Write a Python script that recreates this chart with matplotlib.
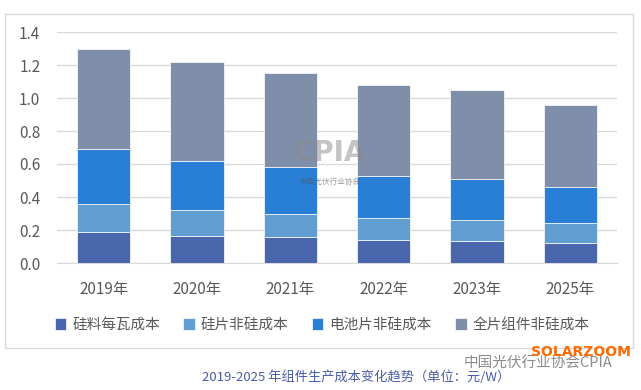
import matplotlib
matplotlib.use('Agg')
import matplotlib.pyplot as plt
import numpy as np

plt.rcParams['font.family'] = ['Noto Sans CJK SC', 'DejaVu Sans']

# data (元/W)
years = ['2019年', '2020年', '2021年', '2022年', '2023年', '2025年']
silicon = [0.19, 0.165, 0.155, 0.14, 0.135, 0.12]      # 硅料每瓦成本
wafer = [0.17, 0.155, 0.145, 0.13, 0.125, 0.12]        # 硅片非硅成本
cell = [0.33, 0.30, 0.28, 0.26, 0.25, 0.22]            # 电池片非硅成本
module = [0.61, 0.60, 0.57, 0.55, 0.54, 0.50]          # 全片组件非硅成本

labels = ['硅料每瓦成本', '硅片非硅成本', '电池片非硅成本', '全片组件非硅成本']
colors = ['#4a66ac', '#629dd1', '#297fd5', '#7f8fa9']

fig = plt.figure(figsize=(6.41, 3.90), dpi=100)

# outer chart frame
frame = plt.Rectangle((5/641, 1-348/390), 628/641, 334/390, transform=fig.transFigure,
                      fill=False, edgecolor='#d9d9d9', linewidth=1)
fig.patches.append(frame)

ax = fig.add_axes([57/641, 1-263/390, 560/641, 231/390])
x = np.arange(len(years))
bottom = np.zeros(len(years))
for vals, lab, col in zip([silicon, wafer, cell, module], labels, colors):
    ax.bar(x, vals, 0.57, bottom=bottom, color=col, label=lab,
           edgecolor='white', linewidth=0.5, zorder=3)
    bottom += np.array(vals)

ax.set_xlim(-0.5, len(years) - 0.5)
ax.set_ylim(0, 1.4)
ax.set_yticks(np.arange(0, 1.41, 0.2))
ax.set_yticklabels(['%.1f' % v for v in np.arange(0, 1.41, 0.2)])
ax.set_xticks(x)
ax.set_xticklabels(years)
ax.tick_params(axis='both', length=0, colors='#595959', labelsize=11)
ax.tick_params(axis='x', pad=13)
ax.tick_params(axis='y', pad=12)
ax.grid(axis='y', color='#d9d9d9', linewidth=1, zorder=0)
for s in ['top', 'right', 'left']:
    ax.spines[s].set_visible(False)
ax.spines['bottom'].set_color('#d9d9d9')

fig.legend(loc='center', bbox_to_anchor=(322/641, 1-325/390), ncol=4, frameon=False,
           fontsize=10.5, handlelength=0.8, handleheight=0.8, handletextpad=0.4,
           columnspacing=1.6, labelcolor='#595959')

# watermark in the middle
fig.text(330/641, 1-153/390, 'CPIA', fontsize=20, fontweight='bold', color='#8a8a8a',
         alpha=0.5, ha='center', va='center', family='DejaVu Sans')
fig.text(330/641, 1-182/390, '中国光伏行业协会', fontsize=5.5, color='#555555',
         alpha=0.6, ha='center', va='center')

# caption and source marks
fig.text(356/641, 1-377/390, '2019-2025 年组件生产成本变化趋势（单位：元/W）', fontsize=9.5,
         color='#4a5ca8', ha='center', va='center')
fig.text(538/641, 1-363/390, '中国光伏行业协会CPIA', fontsize=10.5, color='#8c8c8c',
         ha='center', va='center')
fig.text(581/641, 1-352/390, 'SOLARZOOM', fontsize=10, color='#ff6a00', fontweight='bold',
         ha='center', va='center', family='DejaVu Sans')

fig.savefig('out.png', dpi=100)
